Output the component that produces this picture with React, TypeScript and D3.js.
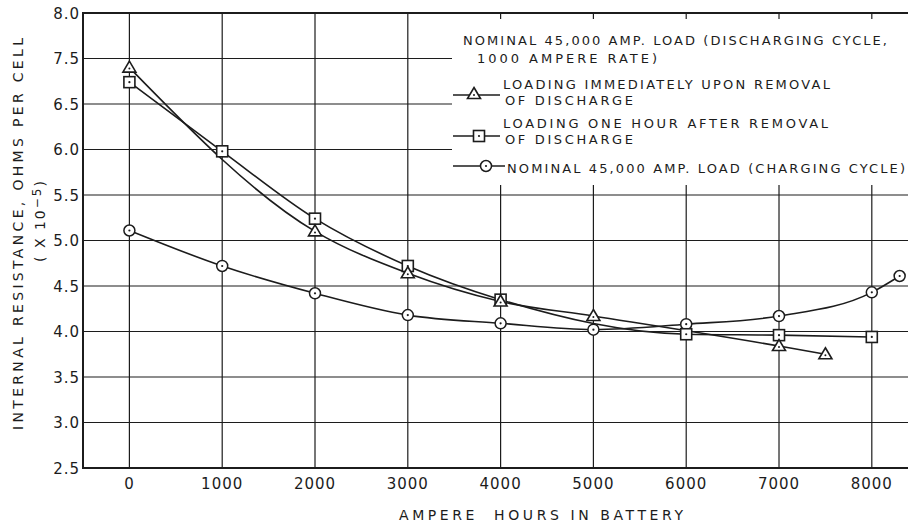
import React from "react";
import * as d3 from "d3";

// Ampere-hours in battery at each tick
const xTickValues = [0, 1000, 2000, 3000, 4000, 5000, 6000, 7000, 8000];
// Gridline positions on the resistance axis and the labels printed beside them
const yTickValues = [2.5, 3.0, 3.5, 4.0, 4.5, 5.0, 5.5, 6.0, 6.5, 7.0, 7.5];
const yTickLabels = ["2.5", "3.0", "3.5", "4.0", "4.5", "5.0", "5.5", "6.0", "6.5", "7.5", "8.0"];

// Loading immediately upon removal of discharge (triangles)
const immediateHours = [0, 2000, 3000, 4000, 5000, 7000, 7500];
const immediateOhms = [6.9, 5.1, 4.64, 4.33, 4.17, 3.84, 3.75];

// Loading one hour after removal of discharge (squares)
const oneHourHours = [0, 1000, 2000, 3000, 4000, 6000, 7000, 8000];
const oneHourOhms = [6.74, 5.98, 5.24, 4.72, 4.35, 3.97, 3.96, 3.94];

// Nominal 45,000 amp load, charging cycle (circles)
const chargingHours = [0, 1000, 2000, 3000, 4000, 5000, 6000, 7000, 8000, 8300];
const chargingOhms = [5.11, 4.72, 4.42, 4.18, 4.09, 4.02, 4.08, 4.17, 4.43, 4.61];

const W = 908;
const H = 529;
const INK = "#1c1c1c";
const FONT = "'DejaVu Sans', Verdana, sans-serif";

const left = 83;
const right = 908;
const top = 13;
const bottom = 468;

const x = d3.scaleLinear().domain([-500, 8390]).range([left, right]);
const y = d3.scaleLinear().domain([2.5, 7.5]).range([bottom, top]);

type Pt = [number, number];
const zip = (xs: number[], ys: number[]): Pt[] => xs.map((v, i) => [v, ys[i]]);

const line = d3
  .line<Pt>()
  .x((d) => x(d[0]))
  .y((d) => y(d[1]))
  .curve(d3.curveMonotoneX);

const immediate = zip(immediateHours, immediateOhms);
const oneHour = zip(oneHourHours, oneHourOhms);
const charging = zip(chargingHours, chargingOhms);

function Triangle({ cx, cy }: { cx: number; cy: number }) {
  return (
    <g>
      <path
        d={`M${cx},${cy - 6.5}L${cx + 6.5},${cy + 4.5}L${cx - 6.5},${cy + 4.5}Z`}
        fill="#fff"
        stroke={INK}
        strokeWidth={1.6}
      />
      <circle cx={cx} cy={cy + 1} r={1} fill={INK} />
    </g>
  );
}

function Square({ cx, cy }: { cx: number; cy: number }) {
  return (
    <g>
      <rect x={cx - 5.5} y={cy - 5.5} width={11} height={11} fill="#fff" stroke={INK} strokeWidth={1.6} />
      <circle cx={cx} cy={cy} r={1.1} fill={INK} />
    </g>
  );
}

function Circle({ cx, cy }: { cx: number; cy: number }) {
  return (
    <g>
      <circle cx={cx} cy={cy} r={5.5} fill="#fff" stroke={INK} strokeWidth={1.5} />
      <circle cx={cx} cy={cy} r={1.1} fill={INK} />
    </g>
  );
}

export default function App() {
  const legendText = {
    fontFamily: FONT,
    fontSize: 13,
    fill: INK,
    lengthAdjust: "spacing",
  } as const;

  return (
    <svg
      width={W}
      height={H}
      viewBox={`0 0 ${W} ${H}`}
      style={{ position: "absolute", left: 0, top: 0, background: "#fff" }}
    >
      <rect width={W} height={H} fill="#fff" />

      {/* grid */}
      <g stroke={INK} strokeWidth={1.2}>
        {yTickValues.map((v) => (
          <line key={`h${v}`} x1={left} x2={right} y1={y(v)} y2={y(v)} />
        ))}
        {xTickValues.map((v) => (
          <line key={`v${v}`} x1={x(v)} x2={x(v)} y1={top} y2={bottom} />
        ))}
      </g>

      {/* frame */}
      <g stroke={INK} strokeWidth={2} fill="none">
        <line x1={left} x2={right} y1={top} y2={top} />
        <line x1={left} x2={right} y1={bottom} y2={bottom} />
        <line x1={left} x2={left} y1={top - 1} y2={bottom + 1} />
      </g>

      {/* legend panel */}
      <rect x={452} y={19} width={W - 452} height={166} fill="#fff" />

      {/* curves */}
      <g fill="none" stroke={INK} strokeWidth={1.6}>
        <path d={line(immediate) ?? ""} />
        <path d={line(oneHour) ?? ""} />
        <path d={line(charging) ?? ""} />
      </g>

      {/* markers */}
      {charging.map((d, i) => (
        <Circle key={`c${i}`} cx={x(d[0])} cy={y(d[1])} />
      ))}
      {oneHour.map((d, i) => (
        <Square key={`s${i}`} cx={x(d[0])} cy={y(d[1])} />
      ))}
      {immediate.map((d, i) => (
        <Triangle key={`t${i}`} cx={x(d[0])} cy={y(d[1])} />
      ))}

      {/* y tick labels */}
      <g fontFamily={FONT} fontSize={15} fill={INK} textAnchor="end">
        {yTickValues.map((v, i) => (
          <text key={`yl${v}`} x={80} y={y(v) + 5.5} letterSpacing={1}>
            {yTickLabels[i]}
          </text>
        ))}
      </g>

      {/* x tick labels */}
      <g fontFamily={FONT} fontSize={15} fill={INK} textAnchor="middle">
        {xTickValues.map((v) => (
          <text key={`xl${v}`} x={x(v)} y={489} letterSpacing={1}>
            {v}
          </text>
        ))}
      </g>

      {/* axis titles */}
      <text
        x={399}
        y={520}
        fontFamily={FONT}
        fontSize={14}
        fill={INK}
        textLength={284}
        lengthAdjust="spacing"
        style={{ whiteSpace: "pre" }}
      >
        {"AMPERE  HOURS IN BATTERY"}
      </text>
      <text
        transform="translate(23,430) rotate(-90)"
        fontFamily={FONT}
        fontSize={14}
        fill={INK}
        textLength={392}
        lengthAdjust="spacing"
      >
        INTERNAL RESISTANCE, OHMS PER CELL
      </text>
      <text transform="translate(45,262) rotate(-90)" fontFamily={FONT} fontSize={14} fill={INK} letterSpacing={2}>
        ( X 10<tspan dy={-4} fontSize={12}>−5</tspan>
        <tspan dy={4}>)</tspan>
      </text>

      {/* legend */}
      <text x={463} y={45} {...legendText} textLength={424}>
        NOMINAL 45,000 AMP. LOAD (DISCHARGING CYCLE,
      </text>
      <text x={477} y={63} {...legendText} textLength={180}>
        1000 AMPERE RATE)
      </text>

      <line x1={453} x2={500} y1={95} y2={95} stroke={INK} strokeWidth={1.5} />
      <Triangle cx={474} cy={94} />
      <text x={503} y={89} {...legendText} textLength={327}>
        LOADING IMMEDIATELY UPON REMOVAL
      </text>
      <text x={505} y={105} {...legendText} textLength={128}>
        OF DISCHARGE
      </text>

      <line x1={453} x2={500} y1={136} y2={136} stroke={INK} strokeWidth={1.5} />
      <Square cx={479} cy={136} />
      <text x={503} y={128} {...legendText} textLength={325}>
        LOADING ONE HOUR AFTER REMOVAL
      </text>
      <text x={505} y={144} {...legendText} textLength={128}>
        OF DISCHARGE
      </text>

      <line x1={453} x2={505} y1={166} y2={166} stroke={INK} strokeWidth={1.5} />
      <Circle cx={486} cy={166} />
      <text x={507} y={173} {...legendText} textLength={398}>
        NOMINAL 45,000 AMP. LOAD (CHARGING CYCLE)
      </text>
    </svg>
  );
}
